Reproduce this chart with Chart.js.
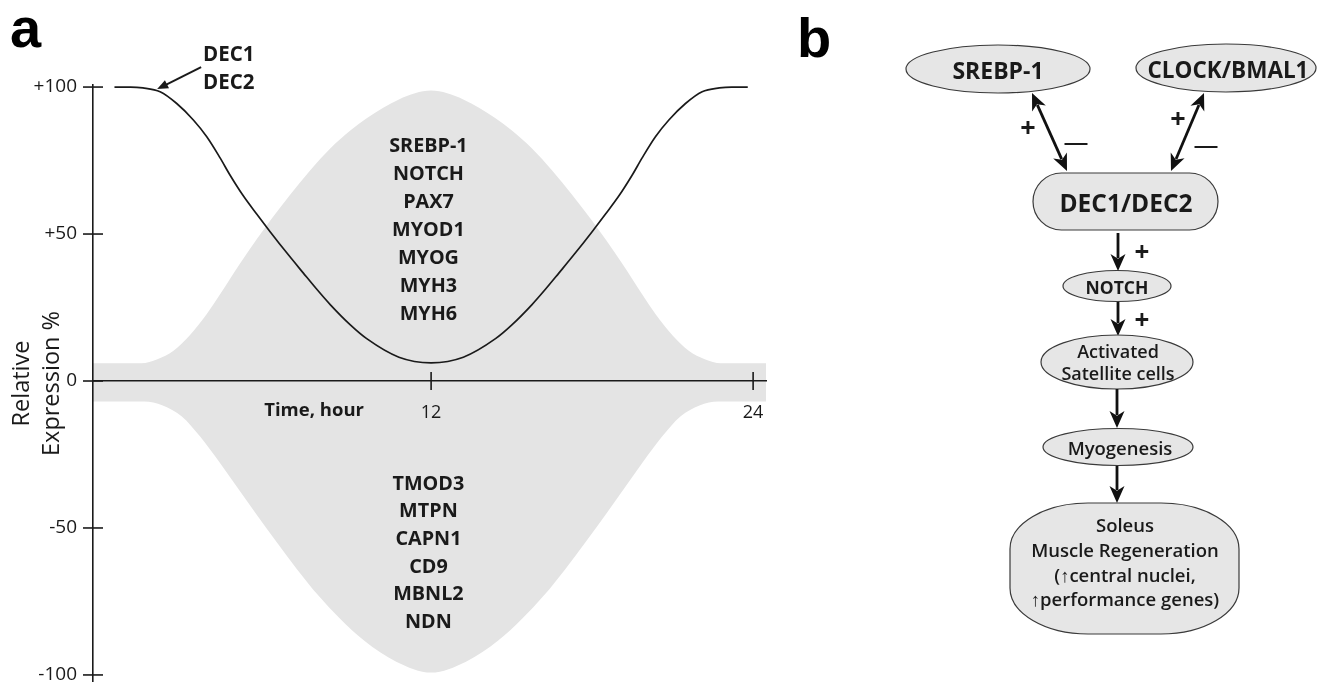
<!DOCTYPE html>
<html><head><meta charset="utf-8">
<script src="https://cdn.jsdelivr.net/npm/chart.js@4.4.1/dist/chart.umd.min.js"></script>
<style>
html,body{margin:0;padding:0;background:#fff;overflow:hidden;}
#wrap{position:relative;width:1317px;height:682px;overflow:hidden;}
#c{position:absolute;left:0;top:0;}
#ann{position:absolute;left:0;top:0;width:800px;height:682px;pointer-events:none;}
.lbl{position:absolute;font-family:"Open Sans",sans-serif;color:#1a1a1a;white-space:nowrap;}
.panel{position:absolute;font-family:"Liberation Sans",Arial,sans-serif;font-weight:700;font-size:56px;line-height:56px;color:#000;}
#b{position:absolute;left:0;top:0;}
#b text{font-family:"Open Sans",sans-serif;fill:#1a1a1a;}
</style></head>
<body><div id="wrap">
<canvas id="c" width="800" height="682"></canvas>
<div id="ann"></div>
<div class="panel" style="left:10px;top:0px;">a</div>
<div class="panel" style="left:797px;top:10px;">b</div>
<svg id="b" width="1317" height="682"></svg>
</div>
<script>
// ---- Panel a data ----
const hours = [0.2, 0.8, 1.26, 1.9, 2.52, 3.14, 3.64, 4.13, 4.51, 5.0, 5.5, 6.0, 6.62, 7.24, 7.74, 8.24, 9.0, 9.6, 10.8, 12,
  13.2, 14.4, 15.0, 15.76, 16.26, 16.76, 17.38, 18.0, 18.5, 19.0, 19.49, 19.87, 20.36, 20.86, 21.48, 22.1, 22.74, 23.2, 23.8];
const decExpression = [100, 100, 99.7, 98.4, 94.4, 88.8, 83.1, 76, 70, 63, 56.8, 50.8, 43.6, 36.7, 31.2, 26, 19, 14.4, 8.1, 6.2,
  8.1, 14.4, 19, 26, 31.2, 36.7, 43.6, 50.8, 56.8, 63, 70, 76, 83.1, 88.8, 94.4, 98.4, 99.7, 100, 100];
const upperHours = [-0.6, 1.2, 1.8, 2.4, 3.0, 3.64, 4.13, 4.51, 4.88, 5.5, 6.0, 6.74, 7.49, 8.24, 9.0, 9.6, 10.8, 12,
  13.2, 14.4, 15.0, 15.76, 16.51, 17.26, 18.0, 18.5, 19.12, 19.49, 19.87, 20.36, 21.0, 21.6, 22.2, 22.8, 24.5];
const upperBand = [6, 6, 7.4, 10.3, 15.5, 22.8, 29.4, 34.8, 40, 48.2, 54.5, 63.3, 71.6, 79.1, 85.3, 89.4, 95.8, 98.8,
  95.8, 89.4, 85.3, 79.1, 71.6, 63.3, 54.5, 48.2, 40, 34.8, 29.4, 22.8, 15.5, 10.3, 7.4, 6, 6];
const lowerHours = [-0.6, 1.3, 2.0, 2.7, 3.4, 4.1, 4.8, 5.5, 6.2, 7.0, 7.8, 8.6, 9.5, 10.7, 12,
  13.3, 14.5, 15.4, 16.2, 17.0, 17.8, 18.5, 19.2, 19.9, 20.6, 21.3, 22.0, 22.7, 24.5];
const lowerBand = [-7, -7, -8.3, -12, -19, -27.5, -36.5, -45.5, -54.3, -64, -73, -80.8, -88.3, -95.5, -99.2,
  -95.5, -88.3, -80.8, -73, -64, -54.3, -45.5, -36.5, -27.5, -19, -12, -8.3, -7, -7];
const yTickValues = [100, 50, 0, -50, -100];
const yTickLabels = ['+100', '+50', '0', '-50', '-100'];
const xTickValues = [12, 24];
const xTickLabels = ['12', '24'];
const upGenes = ['SREBP-1', 'NOTCH', 'PAX7', 'MYOD1', 'MYOG', 'MYH3', 'MYH6'];
const downGenes = ['TMOD3', 'MTPN', 'CAPN1', 'CD9', 'MBNL2', 'NDN'];
const peakLabel = ['DEC1', 'DEC2'];

const INK = '#1a1a1a';
const GREY = '#e4e4e4';

const tickMarks = {
  id: 'tickMarks',
  afterDraw(chart) {
    const {ctx, scales: {x, y}} = chart;
    ctx.save();
    ctx.strokeStyle = INK; ctx.lineWidth = 1.6;
    const x0 = x.getPixelForValue(x.min);
    const y0 = y.getPixelForValue(0);
    yTickValues.forEach(v => { const p = y.getPixelForValue(v); ctx.beginPath(); ctx.moveTo(x0 - 10, p); ctx.lineTo(x0 + 10, p); ctx.stroke(); });
    xTickValues.forEach(v => { const p = x.getPixelForValue(v); ctx.beginPath(); ctx.moveTo(p, y0 - 9); ctx.lineTo(p, y0 + 9); ctx.stroke(); });
    // arrow from DEC label to curve peak
    const tx = x.getPixelForValue(3.43), ty = y.getPixelForValue(106.8);
    const hx = x.getPixelForValue(1.79), hy = y.getPixelForValue(99.3);
    const ang = Math.atan2(hy - ty, hx - tx);
    ctx.lineWidth = 2;
    ctx.beginPath(); ctx.moveTo(tx, ty); ctx.lineTo(hx - 8 * Math.cos(ang), hy - 8 * Math.sin(ang)); ctx.stroke();
    ctx.fillStyle = INK;
    ctx.beginPath();
    ctx.moveTo(hx, hy);
    ctx.lineTo(hx - 11 * Math.cos(ang) + 4.5 * Math.sin(ang), hy - 11 * Math.sin(ang) - 4.5 * Math.cos(ang));
    ctx.lineTo(hx - 11 * Math.cos(ang) - 4.5 * Math.sin(ang), hy - 11 * Math.sin(ang) + 4.5 * Math.cos(ang));
    ctx.closePath(); ctx.fill();
    ctx.restore();
  }
};

const chart = new Chart(document.getElementById('c'), {
  type: 'line',
  data: {
    datasets: [
      { label: 'DEC1/DEC2', data: hours.map((h, i) => ({x: h, y: decExpression[i]})), borderColor: INK, borderWidth: 1.7,
        pointRadius: 0, cubicInterpolationMode: 'monotone', fill: false, order: 0 },
      { label: 'up-regulated', data: upperHours.map((h, i) => ({x: h, y: upperBand[i]})), borderColor: GREY, borderWidth: 0,
        backgroundColor: GREY, pointRadius: 0, cubicInterpolationMode: 'monotone', fill: 'origin', order: 1 },
      { label: 'down-regulated', data: lowerHours.map((h, i) => ({x: h, y: lowerBand[i]})), borderColor: GREY, borderWidth: 0,
        backgroundColor: GREY, pointRadius: 0, cubicInterpolationMode: 'monotone', fill: 'origin', order: 1 }
    ]
  },
  options: {
    responsive: false, animation: false, events: [],
    layout: {padding: {left: 0, top: 85, right: 34, bottom: 0}},
    plugins: {legend: {display: false}, tooltip: {enabled: false}},
    scales: {
      x: {
        type: 'linear', min: -0.6, max: 24.48, position: {y: 0},
        grid: {display: false, drawTicks: false},
        border: {display: true, color: INK, width: 1.6, z: 1},
        ticks: {z: 1, padding: 21, color: INK, font: {family: 'Open Sans', size: 18},
          callback: (v) => xTickLabels[xTickValues.indexOf(v)]},
        afterBuildTicks: s => { s.ticks = xTickValues.map(v => ({value: v})); },
        afterFit: s => { s.paddingLeft = 0; s.paddingRight = 0; s.paddingTop = 0; s.paddingBottom = 0; }
      },
      y: {
        type: 'linear', min: -102.4, max: 100.7, position: 'left',
        grid: {display: false, drawTicks: false},
        border: {display: true, color: INK, width: 1.6, z: 1},
        ticks: {z: 1, padding: 16, color: INK, font: {family: 'Open Sans', size: 19},
          callback: (v) => yTickLabels[yTickValues.indexOf(v)]},
        afterBuildTicks: s => { s.ticks = yTickValues.map(v => ({value: v})); },
        afterFit: s => { s.width = 93; s.paddingTop = 0; s.paddingBottom = 0; s.paddingLeft = 0; s.paddingRight = 0; },
        title: {display: true, text: ['Relative', 'Expression %'], color: INK,
          font: {family: 'Open Sans', size: 23.5, lineHeight: 1.28}, padding: {top: 7, bottom: 0}}
      }
    }
  },
  plugins: [tickMarks]
});

// ---- annotations placed through the chart scales ----
const xs = chart.scales.x, ys = chart.scales.y, ann = document.getElementById('ann');
function addBlock(lines, xv, yv, lh, size, align) {
  const d = document.createElement('div');
  d.className = 'lbl';
  d.innerHTML = lines.join('<br>');
  d.style.fontWeight = '700';
  d.style.fontSize = size + 'px';
  d.style.lineHeight = lh + 'px';
  d.style.textAlign = align;
  d.style.top = (ys.getPixelForValue(yv) - lh / 2) + 'px';
  d.style.left = xs.getPixelForValue(xv) + 'px';
  if (align === 'center') d.style.transform = 'translateX(-50%)';
  ann.appendChild(d);
  return d;
}
addBlock(upGenes, 11.9, 80.3, 28, 19.8, 'center');
addBlock(downGenes, 11.9, -34.6, 27.6, 19.8, 'center');
addBlock(['Time, hour'], 7.64, -9.5, 24, 18.5, 'center');
addBlock(peakLabel, 3.5, 111.5, 28, 20.5, 'left');

// ---- Panel b: pathway diagram ----
const NS = 'http://www.w3.org/2000/svg';
const svg = document.getElementById('b');
function el(tag, attrs, text) {
  const e = document.createElementNS(NS, tag);
  for (const k in attrs) e.setAttribute(k, attrs[k]);
  if (text !== undefined) e.textContent = text;
  svg.appendChild(e);
  return e;
}
const boxStyle = {fill: '#e6e6e6', stroke: '#3a3a3a', 'stroke-width': 1.2};
function txt(x, y, s, size, weight) {
  return el('text', {x, y, 'text-anchor': 'middle', 'dominant-baseline': 'central', 'font-size': size, 'font-weight': weight}, s);
}
function head(x, y, ang, len, hw) {
  const c = Math.cos(ang), s = Math.sin(ang);
  const p = [[x, y],
    [x - len * c + hw * s, y - len * s - hw * c],
    [x - 0.72 * len * c, y - 0.72 * len * s],
    [x - len * c - hw * s, y - len * s + hw * c]];
  el('polygon', {points: p.map(q => q.join(',')).join(' '), fill: '#111'});
}
function arrow(x1, y1, x2, y2, both) {
  const ang = Math.atan2(y2 - y1, x2 - x1);
  const L = 17, hw = 7.5;
  const sx = both ? x1 + (L - 4) * Math.cos(ang) : x1, sy = both ? y1 + (L - 4) * Math.sin(ang) : y1;
  el('line', {x1: sx, y1: sy, x2: x2 - (L - 4) * Math.cos(ang), y2: y2 - (L - 4) * Math.sin(ang), stroke: '#111', 'stroke-width': 2.8});
  head(x2, y2, ang, L, hw);
  if (both) head(x1, y1, ang + Math.PI, L, hw);
}
function dash(cx, cy) {
  el('line', {x1: cx - 11.5, y1: cy, x2: cx + 11.5, y2: cy, stroke: '#1a1a1a', 'stroke-width': 2});
}

el('ellipse', Object.assign({cx: 998, cy: 69, rx: 92, ry: 24}, boxStyle));
txt(998, 70, 'SREBP-1', 23, 700);
el('ellipse', Object.assign({cx: 1226, cy: 68, rx: 90, ry: 24}, boxStyle));
txt(1228, 69, 'CLOCK/BMAL1', 22.5, 700);
el('rect', Object.assign({x: 1033, y: 173, width: 185, height: 57, rx: 28.5, ry: 28.5}, boxStyle));
txt(1126, 202, 'DEC1/DEC2', 24.5, 700);
arrow(1032, 93, 1067, 171, true);
arrow(1204, 93, 1171, 171, true);
txt(1028, 126, '+', 27, 700);
dash(1076, 144);
txt(1178, 117, '+', 27, 700);
dash(1206, 147);
arrow(1118, 233, 1118, 271, false);
txt(1142, 251, '+', 26, 700);
el('ellipse', Object.assign({cx: 1117, cy: 286, rx: 54, ry: 15.5}, boxStyle));
txt(1117, 287, 'NOTCH', 17.5, 700);
arrow(1118, 302, 1118, 336, false);
txt(1142, 319, '+', 26, 700);
el('ellipse', Object.assign({cx: 1117, cy: 362, rx: 76, ry: 27}, boxStyle));
txt(1118, 351, 'Activated', 18, 600);
txt(1118, 373, 'Satellite cells', 18, 600);
arrow(1117, 389, 1117, 428, false);
el('ellipse', Object.assign({cx: 1118, cy: 447, rx: 75, ry: 18.5}, boxStyle));
txt(1120, 447, 'Myogenesis', 18.5, 600);
arrow(1117, 466, 1117, 503, false);
el('rect', Object.assign({x: 1010, y: 503, width: 229, height: 131, rx: 78, ry: 46}, boxStyle));
txt(1125, 524, 'Soleus', 18.5, 600);
txt(1125, 549, 'Muscle Regeneration', 18.5, 600);
txt(1125, 574, '(\u2191central nuclei,', 18.5, 600);
txt(1125, 598, '\u2191performance genes)', 18.5, 600);
</script>
</body></html>
